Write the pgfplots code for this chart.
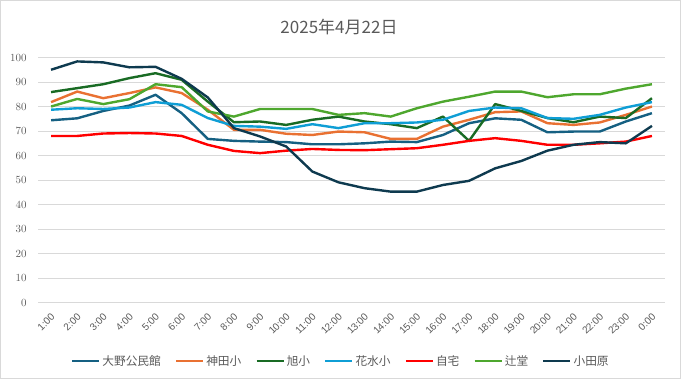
\documentclass[border=0pt]{standalone}
\usepackage{pgfplots}
\pgfplotsset{compat=1.18}
\usepackage{pgfplotstable}
\usepackage{fontspec}
\setmainfont{Liberation Sans}
\newfontfamily\cjk{Noto Sans CJK JP}
\definecolor{txt}{HTML}{595959}
\definecolor{gridc}{HTML}{D9D9D9}
\definecolor{cOno}{HTML}{156082}
\definecolor{cKanda}{HTML}{E97132}
\definecolor{cAsahi}{HTML}{196B24}
\definecolor{cHana}{HTML}{0F9ED5}
\definecolor{cJitaku}{HTML}{FF0000}
\definecolor{cTsuji}{HTML}{4EA72E}
\definecolor{cOda}{HTML}{0E3A4F}
\pgfplotstableread{
x ono kanda asahi hana jitaku tsuji oda
0 74.4 81.8 85.9 78.7 68.0 80.0 95.0
1 75.2 86.1 87.5 79.3 68.0 83.1 98.4
2 78.2 83.4 89.1 79.0 69.0 81.0 98.0
3 80.4 85.5 91.6 79.6 69.2 83.0 96.0
4 84.8 87.8 93.6 81.8 69.0 89.1 96.2
5 77.3 85.5 90.9 80.7 68.0 87.9 91.3
6 66.8 78.7 82.0 75.3 64.4 78.0 83.7
7 66.0 70.5 73.6 72.1 61.9 75.9 71.2
8 65.7 70.5 73.9 71.8 61.0 79.0 67.8
9 65.5 68.9 72.5 70.9 62.0 79.0 63.7
10 64.6 68.4 74.6 72.8 62.7 79.0 53.5
11 64.6 69.8 75.9 71.2 62.3 76.6 49.1
12 65.0 69.5 73.9 73.2 62.2 77.3 46.7
13 65.7 66.8 72.8 73.2 62.6 75.9 45.3
14 65.5 66.8 71.2 73.5 63.0 79.3 45.3
15 68.4 71.8 75.9 74.6 64.4 82.0 48.0
16 73.2 74.6 66.0 78.2 66.0 84.0 49.7
17 75.2 77.7 81.0 79.6 67.1 86.1 54.8
18 74.6 78.0 78.2 79.3 66.0 86.1 57.8
19 69.5 73.2 75.3 75.3 64.4 83.8 62.0
20 69.8 72.5 73.6 75.0 64.4 85.0 64.4
21 69.8 73.5 75.9 76.6 65.0 85.0 65.5
22 73.9 76.6 75.3 79.6 65.7 87.3 65.0
23 77.3 80.0 83.4 81.8 68.0 89.1 72.1
}\data
\begin{document}
\begin{tikzpicture}
\useasboundingbox (0,0) rectangle (681bp,379bp);
\draw[gridc, line width=0.75bp] (0.5bp,0.5bp) rectangle (680.5bp,378.5bp);
\begin{axis}[
  at={(38bp,76.3bp)}, anchor=south west,
  scale only axis, width=627bp, height=245.2bp,
  xmin=-0.5, xmax=23.5, ymin=0, ymax=100,
  ytick={0,10,...,100},
  xtick={0,...,23},
  xticklabels={1:00,2:00,3:00,4:00,5:00,6:00,7:00,8:00,9:00,10:00,11:00,12:00,13:00,14:00,15:00,16:00,17:00,18:00,19:00,20:00,21:00,22:00,23:00,0:00},
  axis line style={draw=none},
  major tick length=0pt,
  ymajorgrids, grid style={gridc, line width=0.9bp},
  tick label style={text=txt},
  yticklabel style={font=\fontsize{10.5bp}{12bp}\selectfont, xshift=-8bp},
  xticklabel style={font=\fontsize{10bp}{12bp}\selectfont, xshift=2bp, yshift=-12bp, rotate=45, anchor=east, inner sep=0pt},
  every axis plot/.append style={line width=2.4bp, no markers, line join=round},
  legend columns=7,
  legend style={at={(0.483,-0.238)}, anchor=center, draw=none, fill=none,
    font=\cjk\fontsize{11.7bp}{14bp}\selectfont, text=txt,
    /tikz/every even column/.append style={column sep=12bp},
    inner sep=0pt},
  legend cell align=left,
  legend image code/.code={\draw[#1] (0bp,0bp) -- (27bp,0bp);},
]
\addplot[cOno] table[x=x,y=ono] {\data};
\addlegendentry{大野公民館}
\addplot[cKanda] table[x=x,y=kanda] {\data};
\addlegendentry{神田小}
\addplot[cAsahi] table[x=x,y=asahi] {\data};
\addlegendentry{旭小}
\addplot[cHana] table[x=x,y=hana] {\data};
\addlegendentry{花水小}
\addplot[cJitaku] table[x=x,y=jitaku] {\data};
\addlegendentry{自宅}
\addplot[cTsuji] table[x=x,y=tsuji] {\data};
\addlegendentry{辻堂}
\addplot[cOda] table[x=x,y=oda] {\data};
\addlegendentry{小田原}
\end{axis}
\node[text=txt, font=\cjk\fontsize{17bp}{20bp}\selectfont] at (339bp,352bp) {2025年4月22日};
\end{tikzpicture}
\end{document}
